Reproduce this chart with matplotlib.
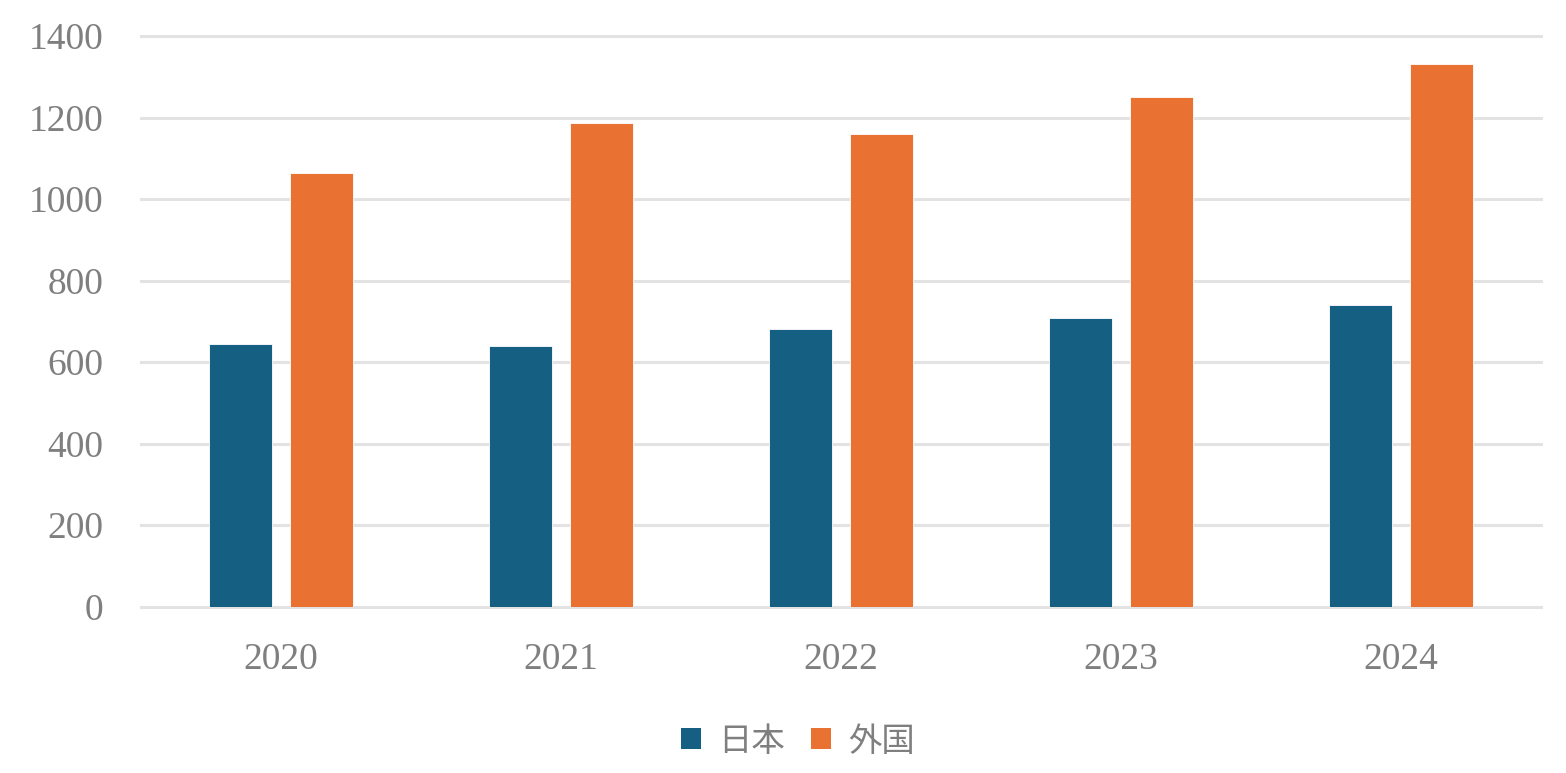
import matplotlib
matplotlib.use("Agg")
import matplotlib.pyplot as plt
from matplotlib.patches import Patch
import numpy as np

years = ["2020", "2021", "2022", "2023", "2024"]
japan = [645, 640, 681, 707, 740]
foreign = [1063, 1186, 1159, 1250, 1331]
series_names = ["日本", "外国"]
colors = ["#156082", "#E97132"]
yticks = [0, 200, 400, 600, 800, 1000, 1200, 1400]

fig = plt.figure(figsize=(15.66, 7.73), dpi=100)
ax = fig.add_axes([141/1566, 1-606.7/773, 1400/1566, (606.7-36)/773])

x = np.arange(len(years))
w = 0.225
off = 0.143
ax.bar(x - off, japan, width=w, color=colors[0], edgecolor="white", linewidth=0.6, zorder=3)
ax.bar(x + off, foreign, width=w, color=colors[1], edgecolor="white", linewidth=0.6, zorder=3)

ax.set_xlim(-0.5, len(years) - 0.5)
ax.set_ylim(0, 1400)
ax.set_yticks(yticks)
ax.set_yticklabels([str(v) for v in yticks])
ax.set_xticks(x)
ax.set_xticklabels(years)
ax.grid(axis="y", color="#e3e3e3", linewidth=2.2, zorder=0)
for gl in ax.yaxis.get_gridlines():
    gl.set_clip_on(False)
ax.set_axisbelow(True)
for s in ax.spines.values():
    s.set_visible(False)
ax.tick_params(axis="both", length=0, labelcolor="#7f7f7f", labelsize=27)
ax.tick_params(axis="y", pad=27)
ax.tick_params(axis="x", pad=26)
for lab in ax.get_xticklabels() + ax.get_yticklabels():
    lab.set_fontfamily("Liberation Serif")

handles = [Patch(facecolor=c, edgecolor="none") for c in colors]
leg = fig.legend(handles, series_names, loc="center", bbox_to_anchor=(798/1566, 1-741/773),
                 ncol=2, frameon=False, handlelength=0.6, handleheight=0.6,
                 handletextpad=0.5, columnspacing=0.8,
                 prop={"family": ["Noto Sans CJK JP", "DejaVu Sans"], "size": 24})
for t in leg.get_texts():
    t.set_color("#7f7f7f")

fig.savefig("out.png", dpi=100)
